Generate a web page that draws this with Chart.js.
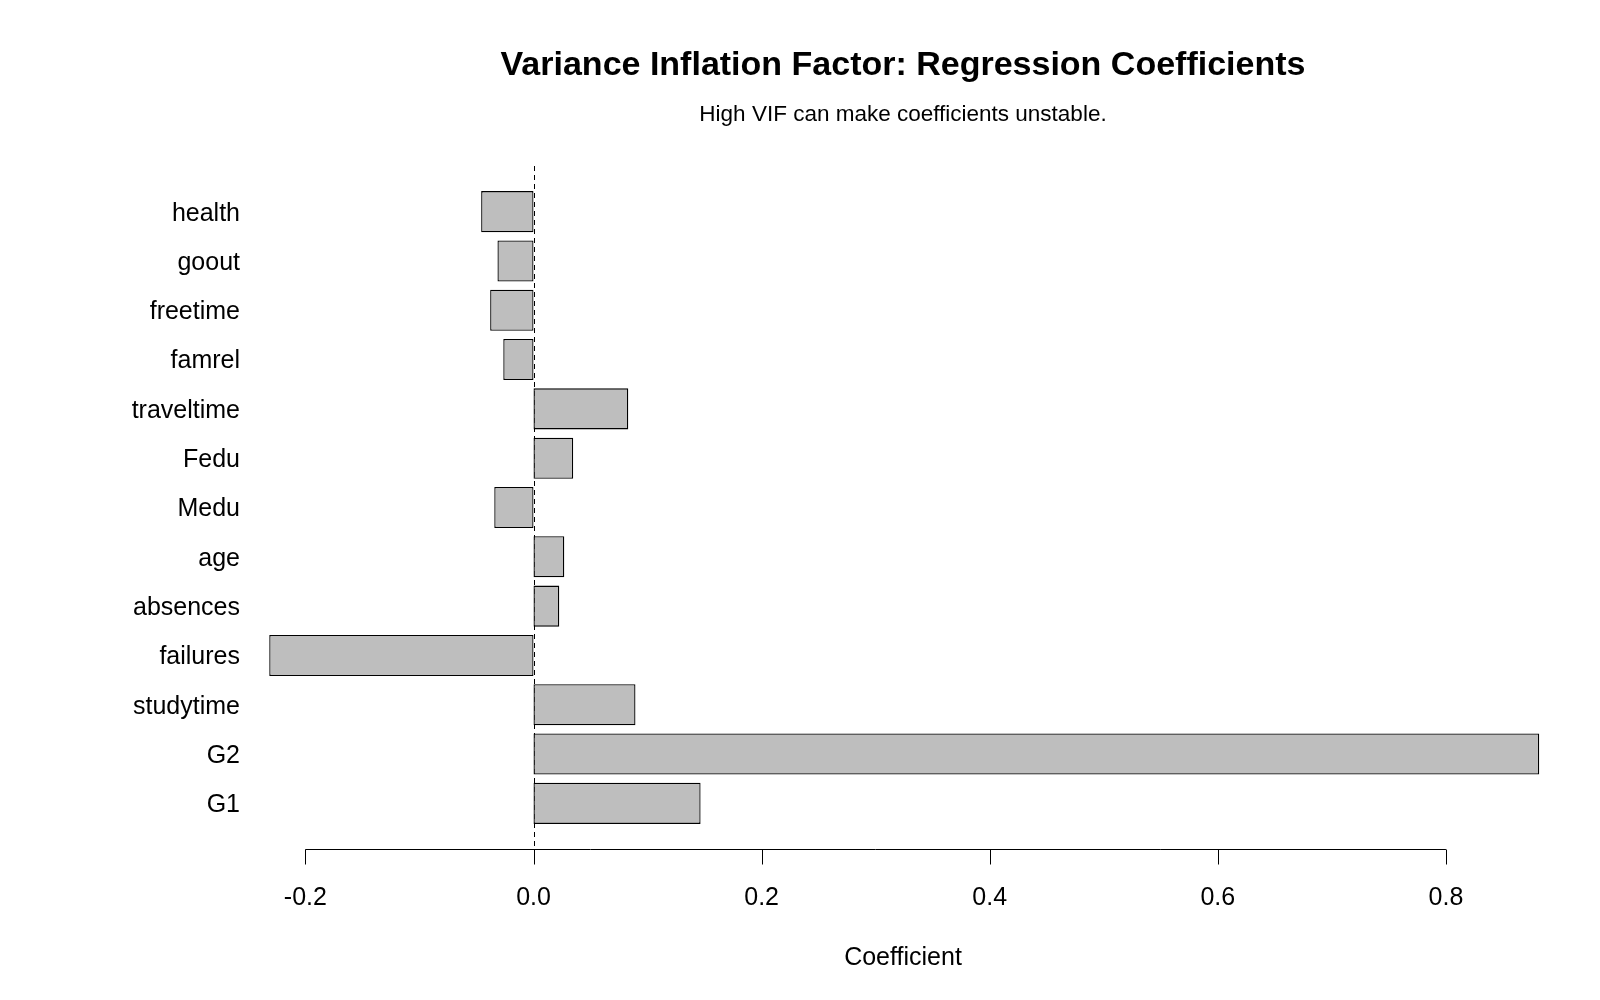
<!DOCTYPE html>
<html>
<head>
<meta charset="utf-8">
<script src="https://cdn.jsdelivr.net/npm/chart.js@4.4.1/dist/chart.umd.min.js"></script>
<style>
  body { margin: 0; background: #fff; }
  #wrap { position: relative; width: 1600px; height: 1000px; }
  .ttl { position: absolute; left: 903px; transform: translateX(-50%); white-space: nowrap;
         font-family: "Liberation Sans", Arial, sans-serif; color: #000; }
  #title { top: 43px; font-size: 34px; line-height: 40px; font-weight: bold; }
  #subtitle { top: 99px; font-size: 22.5px; line-height: 30px; }
  #xlabel { top: 941px; font-size: 25px; line-height: 30px; }
</style>
</head>
<body>
<div id="wrap">
  <div id="title" class="ttl">Variance Inflation Factor: Regression Coefficients</div>
  <div id="subtitle" class="ttl">High VIF can make coefficients unstable.</div>
  <canvas id="vifChart" width="1600" height="1000"></canvas>
  <div id="xlabel" class="ttl">Coefficient</div>
</div>
<script>
// variables, bottom to top (same order as the barplot)
const variables = ['G1', 'G2', 'studytime', 'failures', 'absences', 'age', 'Medu',
  'Fedu', 'traveltime', 'famrel', 'freetime', 'goout', 'health'];

// coefficient of each variable
const coefficients = [0.1465, 0.8818, 0.0894, -0.2317, 0.0226, 0.0270, -0.0344,
  0.0348, 0.0831, -0.0265, -0.0380, -0.0316, -0.0459];

// x axis tick labels
const tickValues = [-0.2, 0.0, 0.2, 0.4, 0.6, 0.8];

const FONT = '"Liberation Sans", Arial, sans-serif';
const EXT = 21; // plot region reaches a bit past the outer bars

// dashed zero line, R style axis line and tick marks
const rAxisPlugin = {
  id: 'rAxis',
  beforeDatasetsDraw(chart) {
    const { ctx, chartArea, scales } = chart;
    const x0 = Math.round(scales.x.getPixelForValue(0)) + 0.5;
    ctx.save();
    ctx.strokeStyle = '#000';
    ctx.lineWidth = 1;
    ctx.setLineDash([5, 4]);
    ctx.beginPath();
    ctx.moveTo(x0, chartArea.top - EXT);
    ctx.lineTo(x0, chartArea.bottom + EXT);
    ctx.stroke();
    ctx.restore();
  },
  afterDraw(chart) {
    const { ctx, chartArea, scales } = chart;
    const y = Math.round(chartArea.bottom + EXT) + 0.5;
    const first = scales.x.getPixelForValue(tickValues[0]);
    const last = scales.x.getPixelForValue(tickValues[tickValues.length - 1]);
    ctx.save();
    ctx.strokeStyle = '#000';
    ctx.lineWidth = 1;
    ctx.beginPath();
    ctx.moveTo(first, y);
    ctx.lineTo(last, y);
    tickValues.forEach(v => {
      const px = Math.round(scales.x.getPixelForValue(v)) + 0.5;
      ctx.moveTo(px, y);
      ctx.lineTo(px, y + 15);
    });
    ctx.stroke();
    ctx.restore();
  }
};

const ctx = document.getElementById('vifChart').getContext('2d');
new Chart(ctx, {
  type: 'bar',
  data: {
    labels: variables,
    datasets: [{
      data: coefficients,
      backgroundColor: '#bebebe',
      borderColor: '#000',
      borderWidth: 1.3,
      borderSkipped: false,
      categoryPercentage: 1,
      barPercentage: 0.833
    }]
  },
  options: {
    indexAxis: 'y',
    responsive: false,
    animation: false,
    layout: { padding: { top: 187, right: 10, bottom: 0, left: 0 } },
    plugins: {
      legend: { display: false },
      tooltip: { enabled: false }
    },
    scales: {
      x: {
        type: 'linear',
        min: -0.2398,
        max: 0.9263,
        grid: { display: false, drawTicks: false },
        border: { display: false },
        afterBuildTicks: scale => {
          scale.ticks = tickValues.map(v => ({ value: v }));
        },
        afterFit: scale => { scale.height = 172; },
        ticks: {
          padding: 55,
          color: '#000',
          font: { family: FONT, size: 25 },
          callback: v => v.toFixed(1)
        }
      },
      y: {
        type: 'category',
        reverse: true,
        grid: { display: false, drawTicks: false },
        border: { display: false },
        afterFit: scale => { scale.width = 260; },
        ticks: {
          padding: 20,
          labelOffset: 2,
          color: '#000',
          font: { family: FONT, size: 25 }
        }
      }
    }
  },
  plugins: [rAxisPlugin]
});
</script>
</body>
</html>
